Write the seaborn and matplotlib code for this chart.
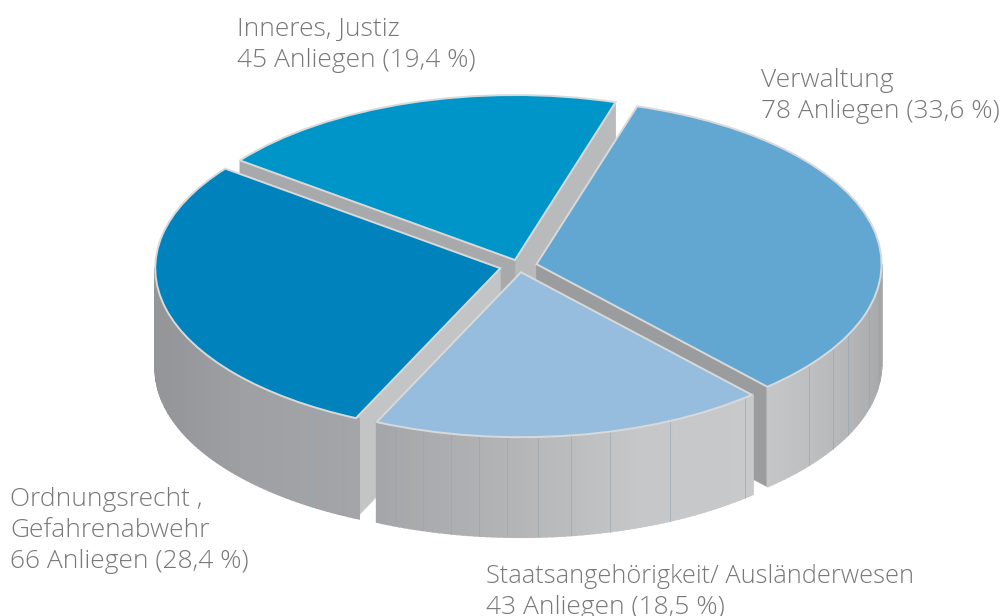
import numpy as np
import matplotlib
matplotlib.use('Agg')
import matplotlib.pyplot as plt
import seaborn as sns

# Anliegen je Themenbereich
bereiche = ['Verwaltung', 'Inneres, Justiz', 'Ordnungsrecht', 'Staatsangehörigkeit']
anliegen = [78, 45, 66, 43]
explode = [0.052, 0.038, 0.056, 0.038]
farben = ['#62a6d2', '#0095c8', '#0082bc', '#96bddd']

beschriftungen = [
    ['Verwaltung', '78 Anliegen (33,6 %)'],
    ['Inneres, Justiz', '45 Anliegen (19,4 %)'],
    ['Ordnungsrecht ,', 'Gefahrenabwehr', '66 Anliegen (28,4 %)'],
    ['Staatsangehörigkeit/ Ausländerwesen', '43 Anliegen (18,5 %)'],
]
text_pos = [(761, 87), (237, 36), (10, 506), (486, 583)]
# die lange Zeile läuft in dieser Schrift sonst zu breit
schrift_lang = 18.3
schrift = 19

# Grautöne der Seitenwände und Schnittflächen
wand_farben = [
    ['#c5c6c8', '#b8babc', '#adafb1', '#a2a4a6'],
    ['#b0b1b3', '#b0b1b3'],
    ['#949598', '#96979a', '#9fa0a3', '#a4a5a8'],
    ['#a5a6a9', '#b3b4b6', '#c6c7c9', '#c8c9cb'],
]
# je Segment: sichtbare Schnittflächen (Anfang, Ende), None = verdeckt
schnitt_farben = [
    ('#9b9c9e', None),
    ('#b9babc', '#a8a9ab'),
    (None, '#c3c4c6'),
    (None, None),
]
naht_winkel = [
    [322.3, 329.1, 334.7, 344.8, 353.7],
    [],
    [229.7, 237, 242.9],
    [248.6, 253.5, 258.3, 263, 267.7, 272.8, 278.3, 285, 295.6, 310.5],
]
ebene = [2, 1, 2, 3]

tiefe = 0.606
breite, hoehe = 1002, 616
mitte_x, mitte_y = 519, 266
rx, ry = 345, 165
zeilenabstand = 31

sns.set_theme(style='white')
plt.rcParams['font.family'] = ['Open Sans', 'DejaVu Sans']

fig = plt.figure(figsize=(breite / 100, hoehe / 100), dpi=100)
ax = fig.add_axes([0, 0, 1, 1])

wedges, _ = ax.pie(anliegen, explode=explode, colors=sns.color_palette(farben),
                   startangle=312, counterclock=True,
                   wedgeprops={'edgecolor': '#d8d9da', 'linewidth': 1.4})

for i, w in enumerate(wedges):
    cx, cy = w.center
    r = w.r
    z = ebene[i] * 10
    w.set_zorder(z + 5)

    # Schnittflächen
    for winkel, farbe in zip((w.theta1, w.theta2), schnitt_farben[i]):
        if farbe is None:
            continue
        ex = cx + r * np.cos(np.radians(winkel))
        ey = cy + r * np.sin(np.radians(winkel))
        ax.fill([cx, ex, ex, cx], [cy, ey, ey - tiefe, cy - tiefe],
                color=farbe, lw=0.5, zorder=z + 1)

    # Außenwand, nur der vordere Teil
    t = np.arange(w.theta1, w.theta2 + 1, 1.0)
    t = t[np.sin(np.radians(t)) <= 0.01]
    if len(t) > 1:
        pal = sns.blend_palette(wand_farben[i], len(t))
        for k in range(len(t) - 1):
            a = np.radians(t[k:k + 2])
            x = cx + r * np.cos(a)
            y = cy + r * np.sin(a)
            ax.fill([x[0], x[1], x[1], x[0]], [y[0], y[1], y[1] - tiefe, y[0] - tiefe],
                    color=pal[k], lw=1.2, zorder=z + 2)

    # feine Nähte zwischen den Segmenten
    for winkel in naht_winkel[i]:
        x = cx + r * np.cos(np.radians(winkel))
        y = cy + r * np.sin(np.radians(winkel))
        ax.plot([x, x], [y, y - tiefe], color='#93a6b2', lw=0.6, alpha=0.7, zorder=z + 3)

ax.set_aspect('auto')
ax.set_xlim(-mitte_x / rx, (breite - mitte_x) / rx)
ax.set_ylim(-(hoehe - mitte_y) / ry, mitte_y / ry)
ax.axis('off')

for zeilen, (px, py) in zip(beschriftungen, text_pos):
    for n, zeile in enumerate(zeilen):
        groesse = schrift_lang if len(zeile) > 30 else schrift
        fig.text(px / breite, 1 - (py + n * zeilenabstand) / hoehe, zeile, fontsize=groesse,
                 color='#787878', weight='light', ha='left', va='baseline')

fig.savefig('out.png', dpi=100)
